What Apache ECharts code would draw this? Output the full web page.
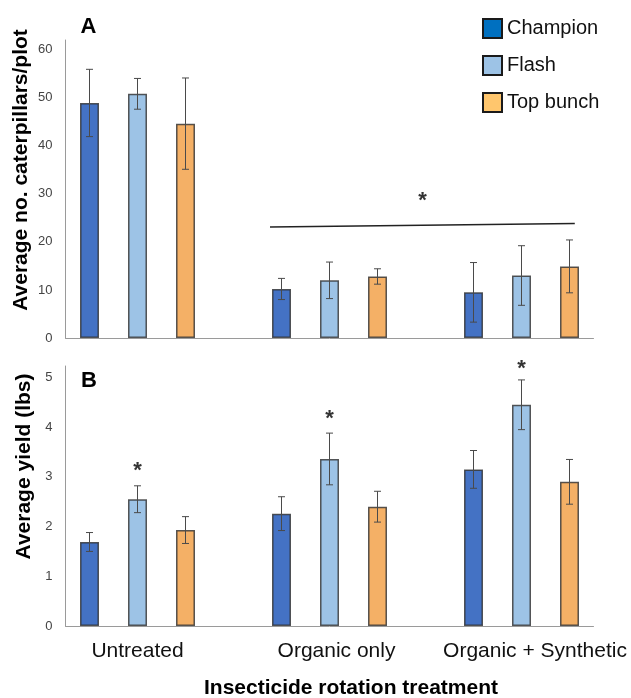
<!DOCTYPE html>
<html><head><meta charset="utf-8">
<script src="https://cdn.jsdelivr.net/npm/echarts@6/dist/echarts.min.js"></script>
<style>html,body{margin:0;padding:0;background:#fff}#c{width:631px;height:698px}</style>
</head><body><div id="c"></div>
<script>
// ---- data ----
const categories = ['Untreated', 'Organic only', 'Organic + Synthetic'];
const varieties = ['Champion', 'Flash', 'Top bunch'];

const caterpillarsChampion = [48.9, 10.2, 9.5];
const caterpillarsFlash = [50.8, 12.0, 13.0];
const caterpillarsTopBunch = [44.6, 12.8, 14.9];
const caterpillarsErrChampion = [7.0, 2.2, 6.2];
const caterpillarsErrFlash = [3.2, 3.8, 6.2];
const caterpillarsErrTopBunch = [9.5, 1.6, 5.5];

const yieldChampion = [1.69, 2.26, 3.15];
const yieldFlash = [2.55, 3.36, 4.45];
const yieldTopBunch = [1.93, 2.40, 2.90];
const yieldErrChampion = [0.19, 0.34, 0.38];
const yieldErrFlash = [0.27, 0.52, 0.50];
const yieldErrTopBunch = [0.27, 0.31, 0.45];

const yTicksA = [0, 10, 20, 30, 40, 50, 60];
const yTicksB = [0, 1, 2, 3, 4, 5];

// significance marks, in slot units (x) and data units (y)
const sigLineA = [[3.76, 23.1], [10.11, 23.8]];
const sigStarsA = [[6.94, 29.5]];
const sigStarsB = [[1, 3.22], [5, 4.27], [9, 5.27]];

// ---- styling ----
const FONT = '"Liberation Sans", Arial, sans-serif';
const barColors = ['#4472C4', '#9DC3E6', '#F4B066'];
const legendColors = ['#0070C0', '#9DC3E6', '#FFC66D'];
const axisGray = '#9a9a9a';

const SLOTS = categories.length * 4 - 1;
const slotOf = (g, v) => g * 4 + v;
function slotData(values, v) {
  const arr = new Array(SLOTS).fill('-');
  values.forEach((val, g) => { arr[slotOf(g, v)] = val; });
  return arr;
}
function errData(means, errs, v) {
  return means.map((m, g) => [slotOf(g, v), m - errs[g], m + errs[g]]);
}
const labelShift = [0, 14, 27];
const slotLabels = new Array(SLOTS).fill(0).map((_, i) => {
  if (i % 4 === 1) {
    const g = (i - 1) / 4;
    return { value: categories[g], textStyle: { padding: [0, 0, 0, labelShift[g]] } };
  }
  return { value: ' ' + i, textStyle: { color: 'rgba(0,0,0,0)' } };
});

function renderErr(params, api) {
  const x = api.value(0);
  const lo = api.coord([x, api.value(1)]);
  const hi = api.coord([x, api.value(2)]);
  const w = 3.5;
  const style = { stroke: '#4a4a4a', lineWidth: 1 };
  return { type: 'group', children: [
    { type: 'line', shape: { x1: lo[0], y1: lo[1], x2: hi[0], y2: hi[1] }, style },
    { type: 'line', shape: { x1: lo[0] - w, y1: lo[1], x2: lo[0] + w, y2: lo[1] }, style },
    { type: 'line', shape: { x1: hi[0] - w, y1: hi[1], x2: hi[0] + w, y2: hi[1] }, style }
  ]};
}
function renderStar(params, api) {
  const p = api.coord([api.value(0), api.value(1)]);
  return { type: 'text', x: p[0], y: p[1] + 5, style: {
    text: '*', fill: '#333', font: 'bold 22px ' + FONT,
    align: 'center', textAlign: 'center', verticalAlign: 'middle', textVerticalAlign: 'middle'
  }};
}

const meansA = [caterpillarsChampion, caterpillarsFlash, caterpillarsTopBunch];
const errsA = [caterpillarsErrChampion, caterpillarsErrFlash, caterpillarsErrTopBunch];
const meansB = [yieldChampion, yieldFlash, yieldTopBunch];
const errsB = [yieldErrChampion, yieldErrFlash, yieldErrTopBunch];

const series = [];
[[meansA, errsA, 0], [meansB, errsB, 1]].forEach(([means, errs, gi]) => {
  varieties.forEach((name, v) => {
    series.push({
      type: 'bar', name, xAxisIndex: gi, yAxisIndex: gi,
      data: slotData(means[v], v), barWidth: 19, barGap: '-100%',
      itemStyle: { color: barColors[v], borderColor: 'rgba(45,45,45,0.8)', borderWidth: 1.5 },
      silent: true
    });
  });
  varieties.forEach((name, v) => {
    series.push({
      type: 'custom', xAxisIndex: gi, yAxisIndex: gi, z: 5,
      renderItem: renderErr, data: errData(means[v], errs[v], v), silent: true
    });
  });
});
series.push({
  type: 'line', xAxisIndex: 2, yAxisIndex: 0, data: sigLineA, symbol: 'none',
  lineStyle: { color: '#222', width: 1.5 }, silent: true, z: 6
});
series.push({ type: 'custom', xAxisIndex: 2, yAxisIndex: 0, data: sigStarsA, renderItem: renderStar, z: 6, silent: true });
series.push({ type: 'custom', xAxisIndex: 3, yAxisIndex: 1, data: sigStarsB, renderItem: renderStar, z: 6, silent: true });

const yAxisCommon = {
  type: 'value', splitLine: { show: false },
  axisLine: { show: true, onZero: false, lineStyle: { color: axisGray, width: 1 } },
  axisTick: { show: false },
  axisLabel: { fontSize: 13, color: '#444', margin: 13, fontFamily: FONT, showMaxLabel: false }
};

const option = {
  animation: false,
  backgroundColor: '#fff',
  grid: [
    { left: 65.5, top: 40, width: 528, height: 298 },
    { left: 65.5, top: 366, width: 528, height: 260 }
  ],
  xAxis: [
    { type: 'category', gridIndex: 0, data: slotLabels.map(d => d.value),
      axisLine: { onZero: false, lineStyle: { color: axisGray } }, axisTick: { show: false }, axisLabel: { show: false } },
    { type: 'category', gridIndex: 1, data: slotLabels,
      axisLine: { onZero: false, lineStyle: { color: axisGray } }, axisTick: { show: false },
      axisLabel: { interval: 0, fontSize: 21, color: '#111', margin: 15, fontFamily: FONT } },
    { type: 'value', gridIndex: 0, min: -0.5, max: SLOTS - 0.5, show: false },
    { type: 'value', gridIndex: 1, min: -0.5, max: SLOTS - 0.5, show: false }
  ],
  yAxis: [
    Object.assign({}, yAxisCommon, { gridIndex: 0, min: yTicksA[0], max: 62, interval: yTicksA[1] - yTicksA[0] }),
    Object.assign({}, yAxisCommon, { gridIndex: 1, min: yTicksB[0], max: 5.23, interval: yTicksB[1] - yTicksB[0] })
  ],
  legend: {
    orient: 'vertical', left: 482, top: 18, padding: 0, itemWidth: 19, itemHeight: 19, itemGap: 16,
    icon: 'rect', selectedMode: false,
    textStyle: { fontSize: 20, color: '#111', fontFamily: FONT },
    data: varieties.map((n, i) => ({ name: n, itemStyle: { color: legendColors[i], borderColor: '#1a1a1a', borderWidth: 2 } }))
  },
  graphic: [
    { type: 'text', x: 21, y: 170, rotation: Math.PI / 2,
      style: { text: 'Average no. caterpillars/plot', font: 'bold 21px ' + FONT, fill: '#000', align: 'center', textAlign: 'center', verticalAlign: 'middle', textVerticalAlign: 'middle' } },
    { type: 'text', x: 24, y: 466.5, rotation: Math.PI / 2,
      style: { text: 'Average yield (lbs)', font: 'bold 21px ' + FONT, fill: '#000', align: 'center', textAlign: 'center', verticalAlign: 'middle', textVerticalAlign: 'middle' } },
    { type: 'text', x: 351, y: 688,
      style: { text: 'Insecticide rotation treatment', font: 'bold 21px ' + FONT, fill: '#000', align: 'center', textAlign: 'center', verticalAlign: 'middle', textVerticalAlign: 'middle' } },
    { type: 'text', x: 88.5, y: 27,
      style: { text: 'A', font: 'bold 22px ' + FONT, fill: '#000', align: 'center', textAlign: 'center', verticalAlign: 'middle', textVerticalAlign: 'middle' } },
    { type: 'text', x: 89, y: 381,
      style: { text: 'B', font: 'bold 22px ' + FONT, fill: '#000', align: 'center', textAlign: 'center', verticalAlign: 'middle', textVerticalAlign: 'middle' } }
  ],
  series
};
const chart = echarts.init(document.getElementById('c'), null, { renderer: 'canvas' });
chart.setOption(option);
</script>
</body></html>
